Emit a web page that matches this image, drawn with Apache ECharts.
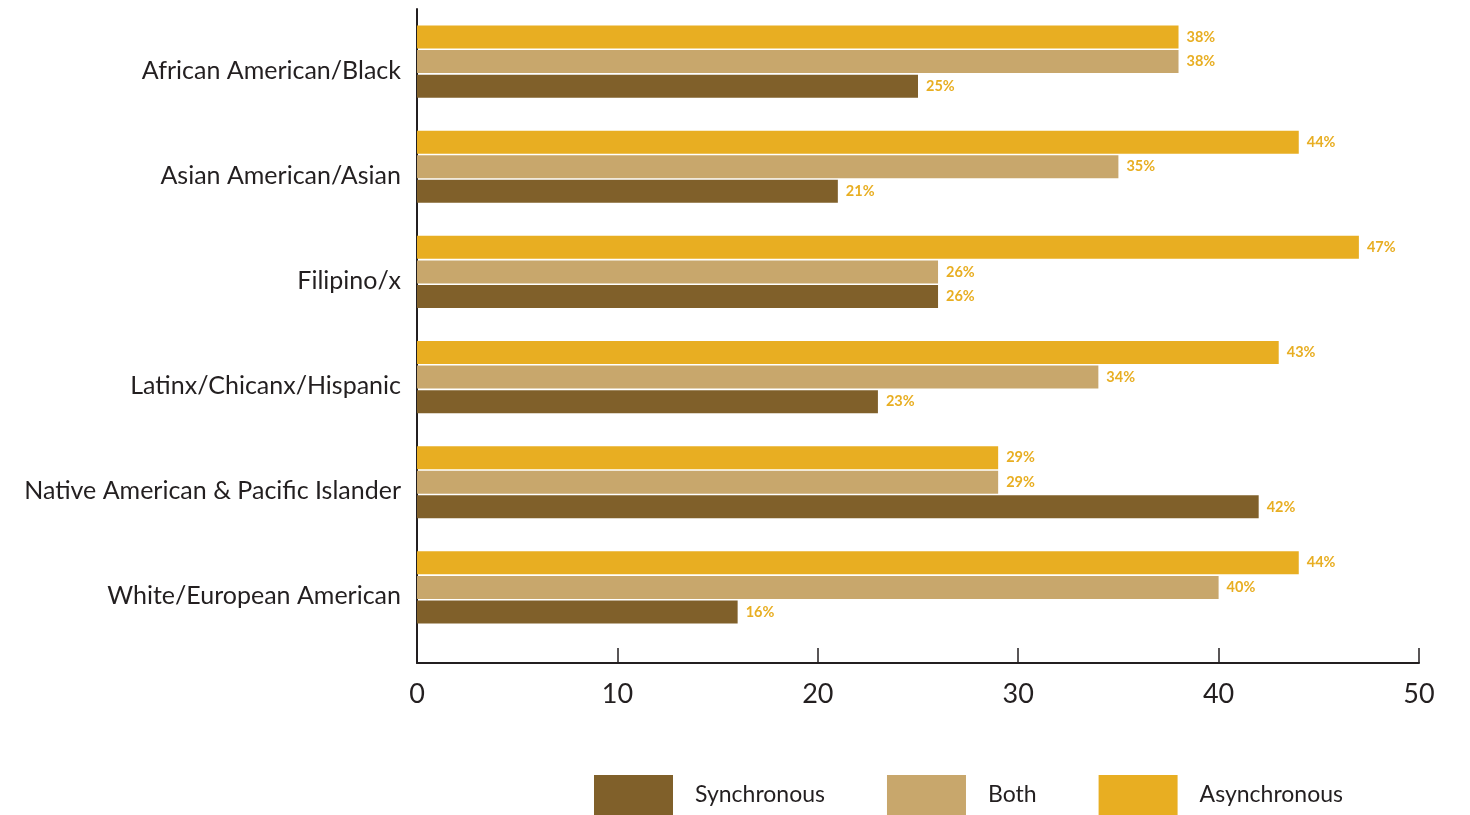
<!DOCTYPE html>
<html>
<head>
<meta charset="utf-8">
<script src="https://cdn.jsdelivr.net/npm/echarts@6/dist/echarts.min.js"></script>
<style>
html,body{margin:0;padding:0;background:#fff;}
#chart{width:1470px;height:815px;}
</style>
</head>
<body>
<div id="chart"></div>
<script>
const categories = ['African American/Black','Asian American/Asian','Filipino/x','Latinx/Chicanx/Hispanic','Native American & Pacific Islander','White/European American'];
const seriesNames = ['Synchronous','Both','Asynchronous'];
const synchronous = [25,21,26,23,42,16];
const both = [38,35,26,34,29,40];
const asynchronous = [38,44,47,43,29,44];
const xTicks = [0,10,20,30,40,50];

const colors = {Synchronous:'#80602A', Both:'#C8A76C', Asynchronous:'#E8AE22'};
const values = {Synchronous:synchronous, Both:both, Asynchronous:asynchronous};
const FONT = 'Lato, "Open Sans", sans-serif';
const TXT = '#231F20';

const chart = echarts.init(document.getElementById('chart'));
const order = ['Asynchronous','Both','Synchronous'];
chart.setOption({
  animation:false,
  backgroundColor:'#fff',
  grid:[
    {left:417, width:1002, top:9, height:631},
    {left:417, width:1002, top:9, height:654}
  ],
  xAxis:[
    {gridIndex:0, type:'value', min:0, max:50, interval:10, show:false},
    {gridIndex:1, type:'value', min:xTicks[0], max:xTicks[xTicks.length-1], interval:10,
     axisLine:{show:true, lineStyle:{color:TXT, width:2}},
     axisTick:{show:true, inside:true, length:15, lineStyle:{color:TXT, width:1.5}},
     axisLabel:{color:TXT, fontSize:27, fontFamily:FONT, margin:18},
     splitLine:{show:false}}
  ],
  yAxis:[
    {gridIndex:0, type:'category', data:categories, inverse:true,
     axisLine:{show:false}, axisTick:{show:false},
     axisLabel:{color:TXT, fontSize:25, fontFamily:FONT, margin:16, verticalAlign:'top', lineHeight:18}},
    {gridIndex:1, type:'value', min:0, max:1,
     axisLine:{show:true, lineStyle:{color:TXT, width:2}},
     axisTick:{show:false}, axisLabel:{show:false}, splitLine:{show:false}}
  ],
  legend:{
    data:seriesNames, left:589, top:770, itemWidth:79, itemHeight:40, itemGap:62,
    icon:'rect',
    textStyle:{color:TXT, fontSize:23, fontFamily:FONT, padding:[7,0,0,17]}
  },
  series: order.map(n => ({
    name:n, type:'bar', xAxisIndex:0, yAxisIndex:0,
    data:values[n], barWidth:23, barGap:'7%',
    itemStyle:{color:colors[n]},
    label:{show:true, position:'right', distance:8, formatter:'{c}%',
      color:'#E8AE22', fontSize:14.5, fontWeight:'bold', fontFamily:FONT}
  }))
});
</script>
</body>
</html>
